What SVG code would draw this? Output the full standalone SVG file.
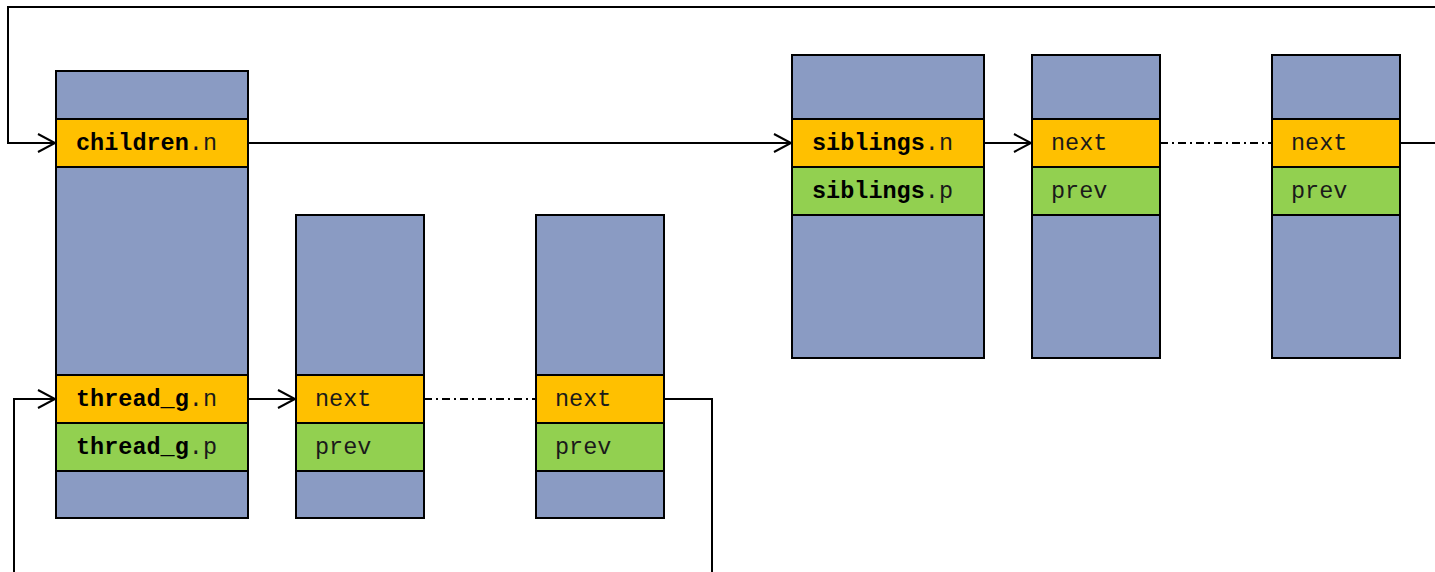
<svg xmlns="http://www.w3.org/2000/svg" width="1435" height="572" viewBox="0 0 1435 572">
  <defs>
    <marker id="open" markerWidth="22" markerHeight="22" refX="18" refY="11" orient="auto" markerUnits="userSpaceOnUse">
      <path d="M1,2 L18,11 L1,20" fill="none" stroke="#000" stroke-width="2"/>
    </marker>
    <style>
      .box rect { stroke: #000; stroke-width: 2; }
      .body { fill: #8A9BC3; }
      .n { fill: #FFC000; }
      .p { fill: #92D050; }
      text { font-family: "Liberation Mono", "Courier New", monospace; font-size: 23.5px; fill: #1a1a1a; }
      .b { font-weight: bold; fill: #000; }
      .link { fill: none; stroke: #000; stroke-width: 2; }
      .dd { fill: none; stroke: #000; stroke-width: 1.8; stroke-dasharray: 8 4 2 4; }
    </style>
  </defs>
  <rect x="0" y="0" width="1435" height="572" fill="#fff"/>

  <!-- list links -->
  <g id="connectors">
    <polyline class="link" points="1435,7 8,7 8,143 55,143" marker-end="url(#open)"/>
    <line class="link" x1="248" y1="143" x2="791" y2="143" marker-end="url(#open)"/>
    <line class="link" x1="984" y1="143" x2="1031" y2="143" marker-end="url(#open)"/>
    <line class="dd" x1="1160" y1="143" x2="1272" y2="143"/>
    <line class="link" x1="1400" y1="143" x2="1435" y2="143"/>
    <line class="link" x1="248" y1="399" x2="295" y2="399" marker-end="url(#open)"/>
    <line class="dd" x1="424" y1="399" x2="536" y2="399"/>
    <polyline class="link" points="664,399 712,399 712,572"/>
    <polyline class="link" points="14,572 14,399 55,399" marker-end="url(#open)"/>
  </g>

  <!-- parent task -->
  <g id="parent" class="box">
    <rect class="body" x="56" y="71" width="192" height="447"/>
    <rect class="n" x="56" y="119" width="192" height="48"/>
    <text x="76" y="150"><tspan class="b">children</tspan>.n</text>
    <rect class="n" x="56" y="375" width="192" height="48"/>
    <text x="76" y="406"><tspan class="b">thread_g</tspan>.n</text>
    <rect class="p" x="56" y="423" width="192" height="48"/>
    <text x="76" y="454"><tspan class="b">thread_g</tspan>.p</text>
  </g>

  <!-- thread group members -->
  <g id="thread1" class="box">
    <rect class="body" x="296" y="215" width="128" height="303"/>
    <rect class="n" x="296" y="375" width="128" height="48"/>
    <text x="315" y="406">next</text>
    <rect class="p" x="296" y="423" width="128" height="48"/>
    <text x="315" y="454">prev</text>
  </g>
  <g id="thread2" class="box">
    <rect class="body" x="536" y="215" width="128" height="303"/>
    <rect class="n" x="536" y="375" width="128" height="48"/>
    <text x="555" y="406">next</text>
    <rect class="p" x="536" y="423" width="128" height="48"/>
    <text x="555" y="454">prev</text>
  </g>

  <!-- children list -->
  <g id="child1" class="box">
    <rect class="body" x="792" y="55" width="192" height="303"/>
    <rect class="n" x="792" y="119" width="192" height="48"/>
    <text x="812" y="150"><tspan class="b">siblings</tspan>.n</text>
    <rect class="p" x="792" y="167" width="192" height="48"/>
    <text x="812" y="198"><tspan class="b">siblings</tspan>.p</text>
  </g>
  <g id="child2" class="box">
    <rect class="body" x="1032" y="55" width="128" height="303"/>
    <rect class="n" x="1032" y="119" width="128" height="48"/>
    <text x="1051" y="150">next</text>
    <rect class="p" x="1032" y="167" width="128" height="48"/>
    <text x="1051" y="198">prev</text>
  </g>
  <g id="child3" class="box">
    <rect class="body" x="1272" y="55" width="128" height="303"/>
    <rect class="n" x="1272" y="119" width="128" height="48"/>
    <text x="1291" y="150">next</text>
    <rect class="p" x="1272" y="167" width="128" height="48"/>
    <text x="1291" y="198">prev</text>
  </g>
</svg>
